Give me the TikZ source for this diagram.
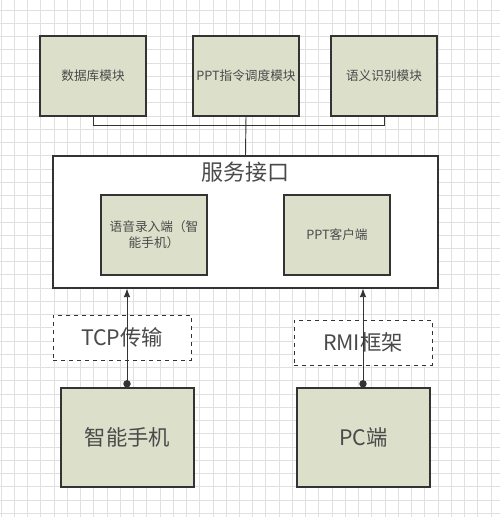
\documentclass[tikz,border=0pt]{standalone}
\usepackage{fontspec}
\setmainfont{Noto Sans CJK SC}
\usepackage{tikz}
\usetikzlibrary{arrows.meta, positioning}

\definecolor{boxfill}{HTML}{DCE0CB}
\definecolor{boxline}{HTML}{333333}
\definecolor{boxtext}{HTML}{4A4A4A}

\tikzset{
  modul/.style={draw=boxline, line width=0.8pt, fill=boxfill, text=boxtext,
    minimum width=79.5pt, minimum height=60pt, inner sep=0pt, align=center,
    font=\fontsize{9.5pt}{12pt}\selectfont},
  endbox/.style={modul, minimum width=99.75pt, minimum height=74.25pt,
    font=\fontsize{16pt}{19pt}\selectfont},
  proto/.style={draw=boxline, dashed, line width=0.6pt, fill=white, text=boxtext,
    minimum width=103.5pt, minimum height=33.75pt, inner sep=0pt,
    font=\fontsize{16pt}{19pt}\selectfont},
  gridline/.style={draw=black!12, line width=0.5pt},
  link/.style={draw=boxline, line width=0.7pt}
}

\begin{document}
\begin{tikzpicture}[x=0.75pt, y=-0.75pt]
  \useasboundingbox (0,0) rectangle (500,517);
  \fill[white] (0,0) rectangle (500,517);

  % grid
  \foreach \k in {0,...,37} \draw[gridline] ({1+13.24*\k},0) -- ({1+13.24*\k},517);
  \foreach \k in {0,...,38} \draw[gridline] (0,{10+13.24*\k}) -- (500,{10+13.24*\k});

  % modules at the top
  \node[modul] (db)   at (93, 76)  {数据库模块};
  \node[modul] (ppt)  at (246, 76) {PPT指令调度模块};
  \node[modul] (sem)  at (384, 76) {语义识别模块};

  % service interface
  \node[draw=boxline, line width=0.8pt, fill=white, minimum width=288.75pt,
        minimum height=99pt, inner sep=0pt] (service) at (245.5, 222) {};
  \node[text=boxtext, font=\fontsize{16.5pt}{19pt}\selectfont] (title) at (245, 172) {服务接口};
  \node[modul] (voice)  at (154, 235) {语音录入端（智\\能手机）};
  \node[modul] (client) at (337, 235) {PPT客户端};

  % protocols and end points
  \node[proto] (tcp) at (122, 337.5) {TCP传输};
  \node[proto] (rmi) at (363, 342.5) {RMI框架};
  \node[endbox] (phone) at (127.5, 437.5) {智能手机};
  \node[endbox] (pc)    at (363.5, 437.5) {PC端};

  \draw[link] (db.south) -- ++(0,9) -| (sem.south);
  \draw[link] (ppt.south) -- (service.north);

  \draw[link, {Circle[length=5.5pt]}-{Latex[length=6.5pt, width=5pt]}]
    (phone.north -| 127,0) -- (127,0 |- service.south);
  \draw[link, {Circle[length=5.5pt]}-{Latex[length=6.5pt, width=5pt]}]
    (pc.north -| 363,0) -- (363,0 |- service.south);
\end{tikzpicture}
\end{document}
